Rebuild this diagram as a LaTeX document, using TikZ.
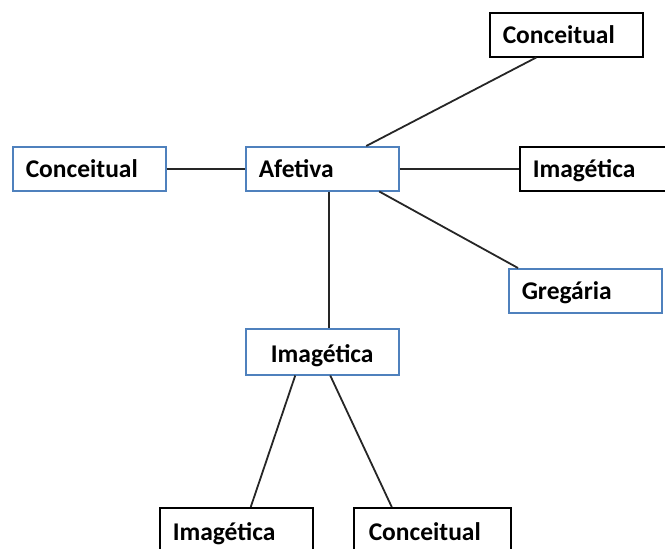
\documentclass[tikz,border=0pt]{standalone}
\usepackage{fontspec}
\setmainfont{Carlito}
\usetikzlibrary{calc}
\definecolor{boxblue}{RGB}{79,129,189}
\tikzset{
  box/.style={draw, line width=1.5pt, anchor=north west, minimum width=153pt,
    inner xsep=13pt, inner ysep=0pt, text width=127pt, align=left,
    text height=31pt, text depth=13pt,
    font=\fontsize{25.5}{30}\selectfont\bfseries},
  bluebox/.style={box, draw=boxblue},
  blackbox/.style={box, draw=black},
  link/.style={draw=black!85, line width=1.8pt}
}
\begin{document}
\begin{tikzpicture}[x=1pt, y=-1pt]
  \useasboundingbox (0,0) rectangle (665,549);
  % boxes
  \node[blackbox] (topc) at (489,12) {Conceitual};
  \node[bluebox] (leftc) at (12,146) {Conceitual};
  \node[bluebox] (af) at (245,146) {Afetiva};
  \node[blackbox, minimum width=165pt, text width=139pt] (rimg) at (519,146) {Imagética};
  \node[bluebox] (greg) at (508,268) {Gregária};
  \node[bluebox, align=center, inner xsep=0pt, text width=153pt, text height=34pt, text depth=12pt] (mimg) at (245,328) {Imagética};
  \node[blackbox, text height=33pt] (bimg) at (159,507) {Imagética};
  \node[blackbox, minimum width=155pt, inner xsep=15pt, text height=33pt] (bcon) at (353,507) {Conceitual};
  % connectors
  \draw[link] (leftc.east) -- (af.west);
  \draw[link] (af.east) -- (af.east -| rimg.west);
  \draw[link] ($(af.north)+(44,0)$) -- ($(topc.south)+(-30,0)$);
  \draw[link] ($(af.south)+(57,0)$) -- ($(greg.north west)+(10,0)$);
  \draw[link] ($(af.south)+(7,0)$) -- ($(mimg.north)+(7,0)$);
  \draw[link] ($(mimg.south)+(-27,0)$) -- ($(bimg.north)+(14.5,0)$);
  \draw[link] ($(mimg.south)+(8,0)$) -- ($(bcon.north)+(-40.5,0)$);
\end{tikzpicture}
\end{document}
